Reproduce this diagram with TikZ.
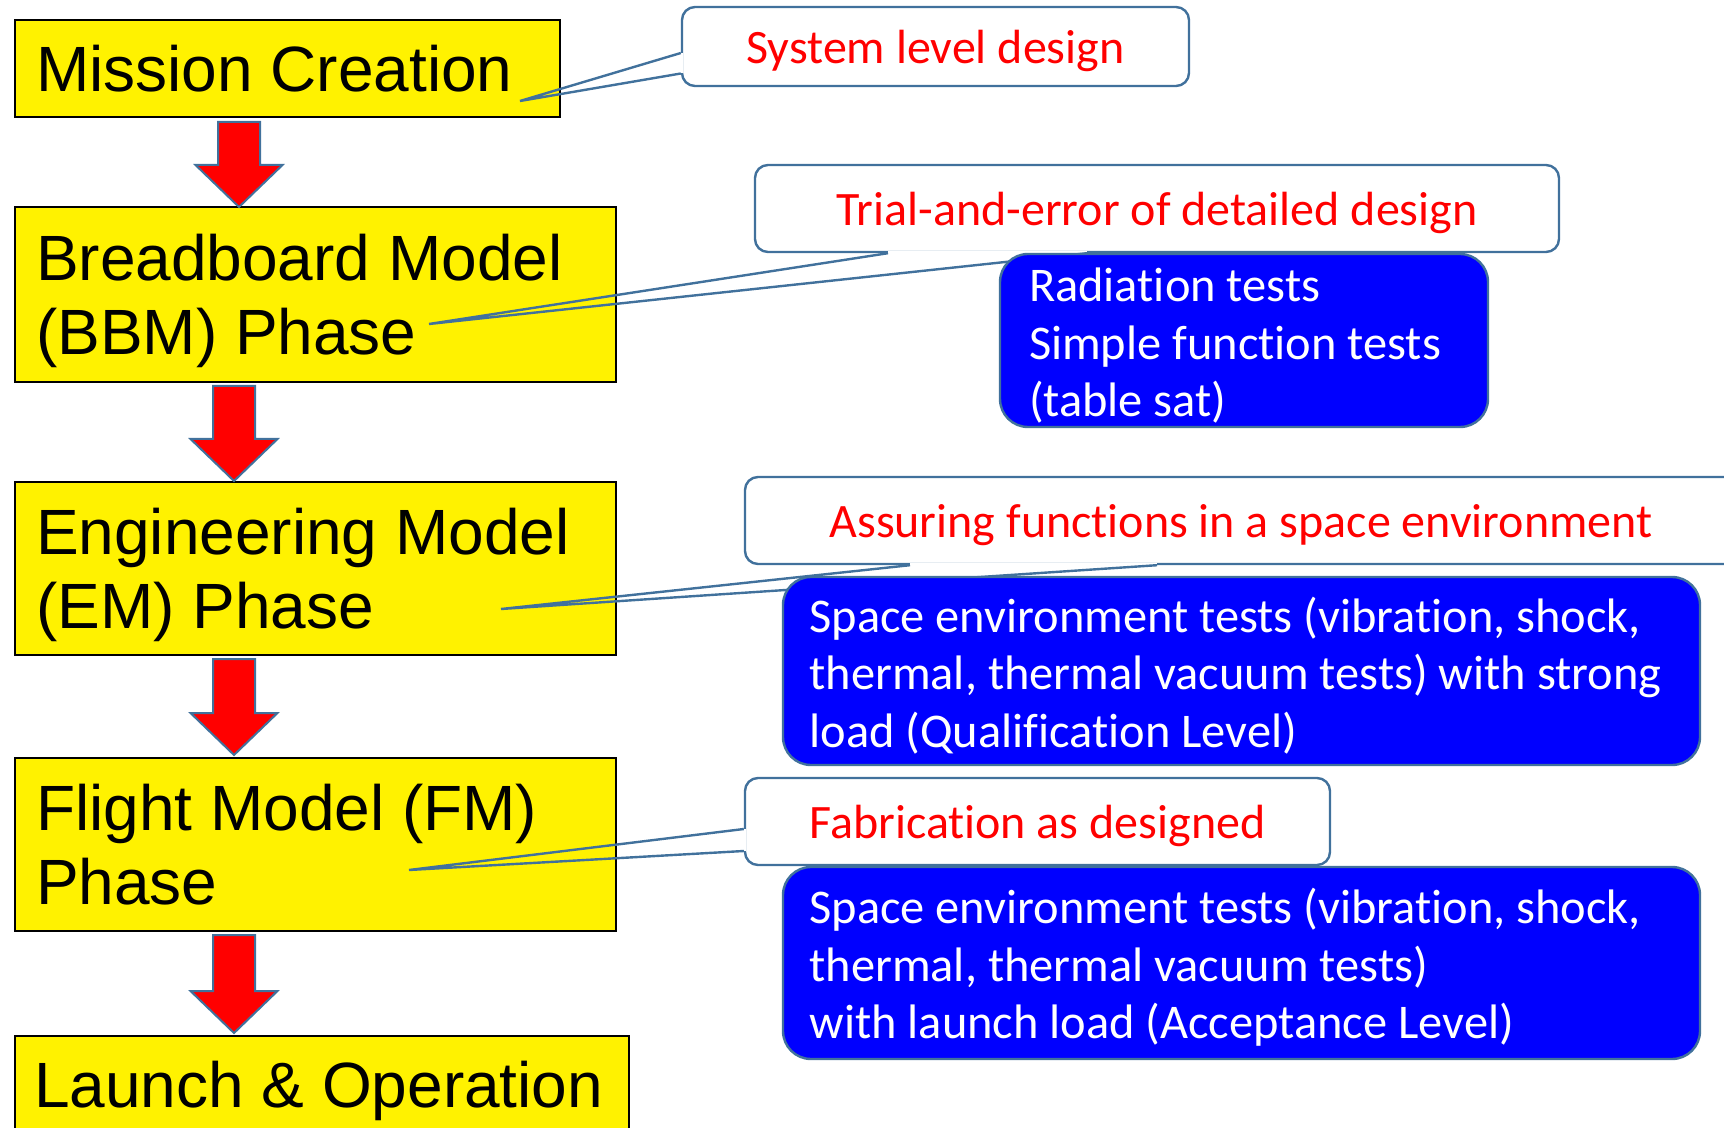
\documentclass[tikz,border=0pt]{standalone}
\usepackage{fontspec}
\newfontfamily\arialfont{Liberation Sans}
\newfontfamily\califont[Ligatures=NoCommon]{Carlito}
\usetikzlibrary{calc}
\definecolor{outlineblue}{RGB}{65,113,156}

\begin{document}
\begin{tikzpicture}[x=0.5pt, y=-0.5pt,
      phase/.style={draw=black, line width=1pt, fill=yellow, align=flush left, inner xsep=10.5pt, inner ysep=0pt,
        font=\arialfont\fontsize{32}{37}\selectfont},
      note/.style={draw=outlineblue, line width=1.2pt, fill=white, rounded corners=6.5pt, inner sep=0pt,
        text height=22pt, text depth=5pt, text=red, font=\califont\fontsize{24}{29}\selectfont},
      tests/.style={draw=outlineblue, line width=1.2pt, fill=blue, rounded corners=14pt, inner xsep=13.25pt,
        inner ysep=0pt, text height=22pt, align=flush left, text=white, font=\califont\fontsize{24.2}{28.8}\selectfont},
      tail/.style={draw=outlineblue, line width=1.2pt},
      gap/.style={draw=white, line width=2.4pt},
      downarrow/.style={draw=outlineblue, line width=1pt, fill=red,
        to path={let \p1=(\tikztostart), \p2=(\tikztotarget) in
          (\x1-10.5pt,\y1) -- (\x1+10.5pt,\y1) -- (\x1+10.5pt,\y2+21pt) -- (\x1+21.75pt,\y2+21pt)
          -- (\x1,\y2) -- (\x1-21.75pt,\y2+21pt) -- (\x1-10.5pt,\y2+21pt) -- cycle}}]
      \useasboundingbox (0,0) rectangle (1724,1128);
      % phases
      \node at (287.5,68.5)[phase, text width=251.5pt, minimum height=48.5pt] (mc){Mission Creation};
      \node at (315.5,294.5)[phase, text width=279.5pt, minimum height=87.5pt] (bbm){Breadboard Model\\\smash{(BBM) Phase}};
      \node at (315.5,568.5)[phase, text width=279.5pt, minimum height=86.5pt] (em){Engineering Model\\\smash{(EM) Phase}};
      \node at (315.5,844.5)[phase, text width=279.5pt, minimum height=86.5pt] (fm){Flight Model (FM)\\Phase};
      \node at (322,1084.5)[phase, inner xsep=9.5pt, text width=288pt, text depth=0pt, minimum height=48.5pt] (lo){Launch \& Operation};
      \draw[downarrow] ($(mc.south)+(-48.5,4)$) to ($(bbm.north)+(-48.5,1)$);
      \draw[downarrow] ($(bbm.south)+(-81.5,3)$) to ($(em.north)+(-81.5,0)$);
      \draw[downarrow] ($(em.south)+(-81.5,3)$) to ($(fm.north)+(-81.5,-2)$);
      \draw[downarrow] ($(fm.south)+(-81.5,3)$) to ($(lo.north)+(-81.5,-2)$);
      % callouts
      \node at (935.5,46.5)[note, minimum width=253.5pt, minimum height=39.5pt] (sld){System level design};
      \node at (1157,208.5)[note, minimum width=402pt, minimum height=43.5pt] (ted){Trial-and-error of detailed design};
      \node at (1241,520.5)[note, minimum width=496pt, minimum height=43.5pt] (afs){Assuring functions in a space environment};
      \node at (1037.5,821.5)[note, minimum width=292.5pt, minimum height=43.5pt] (fad){Fabrication as designed};
      \coordinate (sldtip) at (520,101);
      \coordinate (tedtip) at (429,324);
      \coordinate (afstip) at (501,609);
      \coordinate (fadtip) at (409,870);
      \draw[gap] ($(sld.west)+(0,6.5)$) -- ($(sld.west)+(0,27)$);
      \draw[tail] ($(sld.west)+(0,6.5)$) -- (sldtip) -- ($(sld.west)+(0,27)$);
      \draw[gap] ($(ted.south)+(-269,0)$) -- ($(ted.south)+(-70,0)$);
      \draw[tail] ($(ted.south)+(-269,0)$) -- (tedtip) -- ($(ted.south)+(-70,0)$);
      \draw[gap] ($(afs.south)+(-331,0)$) -- ($(afs.south)+(-84,0)$);
      \draw[tail] ($(afs.south)+(-331,0)$) -- (afstip) -- ($(afs.south)+(-84,0)$);
      \draw[gap] ($(fad.west)+(0,7.5)$) -- ($(fad.west)+(0,29.5)$);
      \draw[tail] ($(fad.west)+(0,7.5)$) -- (fadtip) -- ($(fad.west)+(0,29.5)$);
      % tests
      \node at (1244,340.5)[tests, inner xsep=14.5pt, text width=215pt, minimum height=86.5pt] (rad){Radiation tests\\Simple function tests\\(table sat)};
      \node at (1241.5,671)[tests, text width=432pt, minimum height=94pt] (qual){Space environment tests (vibration, shock,\\thermal, thermal vacuum tests) with strong\\load (Qualification Level)};
      \node at (1241.5,963)[tests, text width=432pt, minimum height=96pt] (acc){Space environment tests (vibration, shock,\\thermal, thermal vacuum tests)\\with launch load (Acceptance Level)};
\end{tikzpicture}
\end{document}
